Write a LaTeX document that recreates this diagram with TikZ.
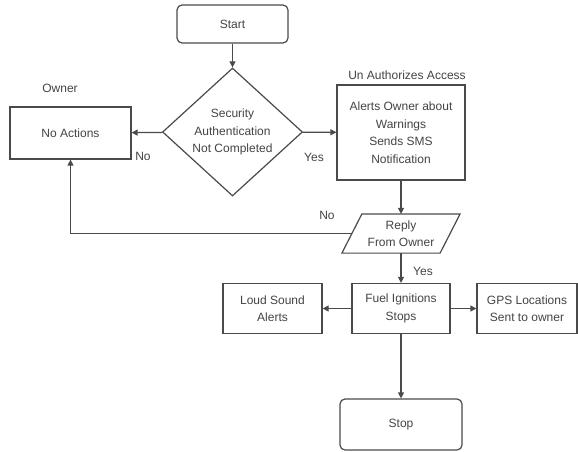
\documentclass[tikz,border=0pt]{standalone}
\usepackage{fontspec}
\setmainfont{Liberation Sans}
\usetikzlibrary{arrows.meta,shapes.geometric}
\definecolor{ln}{HTML}{4A4A4A}
\definecolor{tx}{HTML}{444444}
\tikzset{
  base/.style={draw=ln, line width=1.2pt, text=tx, align=center, inner sep=0pt,
    font=\fontsize{12}{17.5}\selectfont},
  box/.style={base, rectangle},
  rbox/.style={base, rectangle, rounded corners=5pt},
  dia/.style={base, diamond, minimum width=140pt, minimum height=128pt},
  lbl/.style={text=tx, font=\fontsize{12}{14}\selectfont, inner sep=0pt},
  arr/.style={draw=ln, line width=1.2pt, -{Triangle[length=6pt,width=6pt]}},
  ln/.style={draw=ln, line width=1.2pt}
}
\begin{document}
\begin{tikzpicture}[x=1pt,y=-1pt]
\useasboundingbox[fill=white] (0,0) rectangle (578,452);
\node[rbox, minimum width=111pt, minimum height=38pt] (start) at (232.5,24) {Start};
\node[dia] (sec) at (232.5,132) {Security\\Authentication\\Not Completed};
\node[box, minimum width=121pt, minimum height=52pt] (noact) at (70.5,133) {No Actions};
\node[lbl] (owner) at (60,88) {Owner};
\node[box, minimum width=128pt, minimum height=95pt] (unauth) at (401,132.5) {Alerts Owner about\\Warnings\\Sends SMS\\Notification};
\node[lbl] (unlbl) at (407,75) {Un Authorizes Access};
\node[base, draw=none, minimum width=97pt, minimum height=38pt] (reply) at (401,233.5) {Reply\\From Owner};
\draw[ln] ([xshift=10pt]reply.north west) -- ([xshift=10pt]reply.north east)
  -- ([xshift=-10pt]reply.south east) -- ([xshift=-10pt]reply.south west) -- cycle;
\node[box, minimum width=98pt, minimum height=50pt] (fuel) at (401,308.5) {Fuel Ignitions\\Stops};
\node[box, minimum width=99pt, minimum height=50pt] (loud) at (272.5,308.5) {Loud Sound\\Alerts};
\node[box, minimum width=100pt, minimum height=50pt] (gps) at (527,308.5) {GPS Locations\\Sent to owner};
\node[rbox, minimum width=122pt, minimum height=51pt] (stop) at (401,424.5) {Stop};
\draw[arr] (start) -- (sec);
\draw[arr] (sec) -- (noact);
\draw[arr] (sec) -- (unauth);
\draw[arr] (unauth) -- (reply);
\draw[arr] (reply.west) -| (noact.south);
\draw[arr] (reply) -- (fuel);
\draw[arr] (fuel) -- (loud);
\draw[arr] (fuel) -- (gps);
\draw[arr] (fuel) -- (stop);
\node[lbl] (no1) at (143,156) {No};
\node[lbl] (yes1) at (314,157) {Yes};
\node[lbl] (no2) at (327,215) {No};
\node[lbl] (yes2) at (423,271) {Yes};
\end{tikzpicture}
\end{document}
